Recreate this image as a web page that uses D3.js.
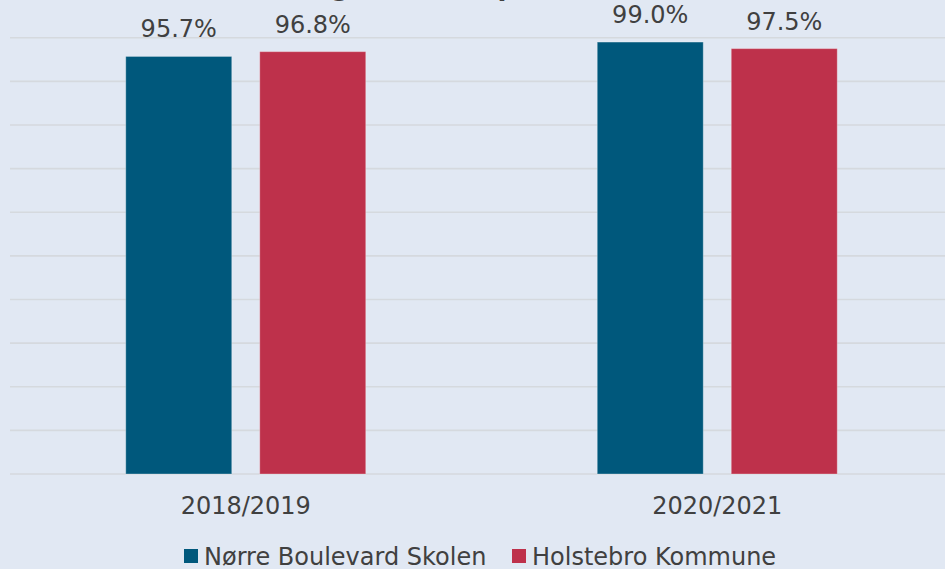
<!DOCTYPE html>
<html>
<head>
<meta charset="utf-8">
<script src="https://cdn.jsdelivr.net/npm/d3@7"></script>
<style>
	html, body { margin: 0; padding: 0; background: #E1E8F3; overflow: hidden; }
	text { font-family: "DejaVu Sans", Verdana, sans-serif; }
</style>
</head>
<body>
<div id="chart"></div>
<script>

var g_nW = 945;
var g_nH = 569;

// data
var vsYears = ["2018/2019", "2020/2021"];
var vsSeries = ["Nørre Boulevard Skolen", "Holstebro Kommune"];
var vfSkolen = [95.7, 99.0];
var vfKommune = [96.8, 97.5];
var vnGridTicks = [0, 10, 20, 30, 40, 50, 60, 70, 80, 90, 100];

var g_colorBackground = "#E1E8F3";
var g_colorGrid = "#D5D9DE";
var g_colorText = "#404040";
var vsColors = ["#00587C", "#BE314B"];

var tjData = vsYears.map(function(d, i) {
	return { year: d, values: [vfSkolen[i], vfKommune[i]] };
});

var g_domSVGMain = d3.select("#chart")
					.append("svg")
						.attr("width", g_nW)
						.attr("height", g_nH)
						.style("display", "block");

g_domSVGMain.append("rect")
				.attr("width", g_nW)
				.attr("height", g_nH)
				.attr("fill", g_colorBackground);

var nLeft = 10;
var nRight = 953;
var nTop = 37.7;
var nBottom = 474;

var funcScaleX = d3.scaleBand()
					.domain(vsYears)
					.range([nLeft, nRight])
					.padding(0);

var funcScaleSeries = d3.scaleBand()
					.domain(d3.range(vsSeries.length))
					.range([0, 240])
					.paddingInner(0.209);

var funcScaleY = d3.scaleLinear()
					.domain([0, 100])
					.range([nBottom, nTop]);

// title, cut off at the top edge: only the descenders show
g_domSVGMain.append("text")
				.attr("x", 472)
				.attr("y", -5)
				.attr("font-size", "26px")
				.attr("font-weight", "bold")
				.attr("text-anchor", "middle")
				.attr("fill", g_colorText)
				.text("Andel elever i god trivsel på skolen (alle elever)");

// gridlines
g_domSVGMain.selectAll("line.grid")
				.data(vnGridTicks)
				.enter()
				.append("line")
					.attr("class", "grid")
					.attr("x1", nLeft)
					.attr("x2", g_nW)
					.attr("y1", function(d) { return funcScaleY(d); })
					.attr("y2", function(d) { return funcScaleY(d); })
					.attr("stroke", g_colorGrid)
					.attr("stroke-width", 1.6);

// bars
var domGroups = g_domSVGMain.selectAll("g.year")
				.data(tjData)
				.enter()
				.append("g")
					.attr("class", "year")
					.attr("transform", function(d) {
						return "translate(" + (funcScaleX(d.year) + funcScaleX.bandwidth() / 2 - 120) + ",0)";
					});

domGroups.selectAll("rect.bar")
				.data(function(d) { return d.values; })
				.enter()
				.append("rect")
					.attr("class", "bar")
					.attr("x", function(d, i) { return funcScaleSeries(i); })
					.attr("y", function(d) { return funcScaleY(d); })
					.attr("width", funcScaleSeries.bandwidth())
					.attr("height", function(d) { return funcScaleY(0) - funcScaleY(d); })
					.attr("fill", function(d, i) { return vsColors[i]; })
					.attr("stroke", "#ffffff")
					.attr("stroke-opacity", 0.3)
					.attr("stroke-width", 1);

domGroups.selectAll("text.value")
				.data(function(d) { return d.values; })
				.enter()
				.append("text")
					.attr("class", "value")
					.attr("x", function(d, i) { return funcScaleSeries(i) + funcScaleSeries.bandwidth() / 2; })
					.attr("y", function(d) { return funcScaleY(d) - 19; })
					.attr("font-size", "24px")
					.attr("text-anchor", "middle")
					.attr("fill", g_colorText)
					.text(function(d) { return d.toFixed(1) + "%"; });

// category labels
g_domSVGMain.selectAll("text.category")
				.data(vsYears)
				.enter()
				.append("text")
					.attr("class", "category")
					.attr("x", function(d) { return funcScaleX(d) + funcScaleX.bandwidth() / 2; })
					.attr("y", 514)
					.attr("font-size", "24px")
					.attr("text-anchor", "middle")
					.attr("fill", g_colorText)
					.text(function(d) { return d; });

// legend
var vnLegendX = [184, 512];

var domLegend = g_domSVGMain.selectAll("g.legend")
				.data(vsSeries)
				.enter()
				.append("g")
					.attr("class", "legend")
					.attr("transform", function(d, i) { return "translate(" + vnLegendX[i] + ",0)"; });

domLegend.append("rect")
				.attr("x", 0)
				.attr("y", 549)
				.attr("width", 14)
				.attr("height", 14)
				.attr("fill", function(d, i) { return vsColors[i]; });

domLegend.append("text")
				.attr("x", 20)
				.attr("y", 565)
				.attr("font-size", "24px")
				.attr("fill", g_colorText)
				.text(function(d) { return d; });

</script>
</body>
</html>
